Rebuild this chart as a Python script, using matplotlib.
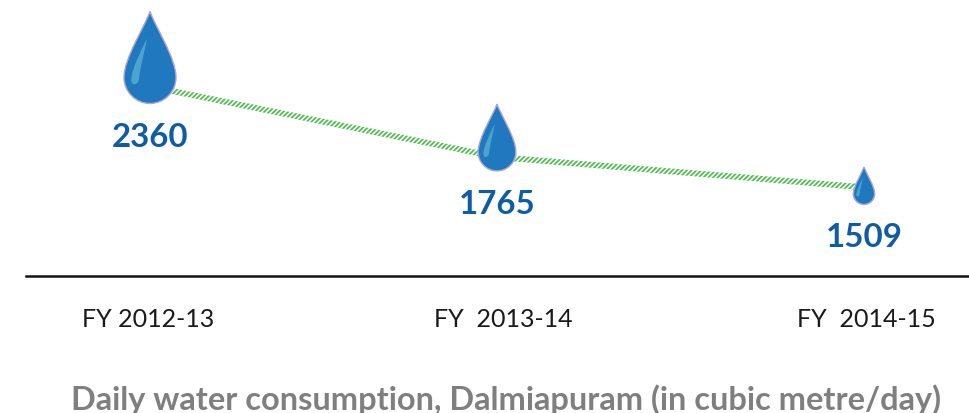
import matplotlib
matplotlib.use("Agg")
import matplotlib.pyplot as plt
from matplotlib.path import Path
from matplotlib.patches import PathPatch
from matplotlib.transforms import Affine2D

plt.rcParams['font.family'] = ['Lato', 'DejaVu Sans']
plt.rcParams['hatch.linewidth'] = 1.3

# data
categories = ["FY 2012-13", "FY  2013-14", "FY  2014-15"]
values = [2360, 1765, 1509]
title = "Daily water consumption, Dalmiapuram (in cubic metre/day)"

# layout
line_x = [150, 497, 864]
tick_x = [148, 503, 866]
drop_r = [26, 18.9, 10.6]
drop_dy = [9, 5, -6.5]
label_dy = [-50, -47, -49]

fig = plt.figure(figsize=(9.7, 4.14), dpi=100)
ax = fig.add_axes([26/970, 137/414, 944/970, 277/414])
ax.set_xlim(26, 970)
ax.set_ylim(761, 3098)
ax.patch.set_alpha(0)
for s in ("top", "left", "right"):
    ax.spines[s].set_visible(False)
ax.spines["bottom"].set_linewidth(1.8)
ax.spines["bottom"].set_color("#111111")
ax.set_yticks([])
ax.set_xticks(tick_x, categories)
ax.tick_params(axis="x", length=0, pad=22, labelsize=18, labelcolor="#1a1a1a")

# hatched band
half = 3.0 / 0.1185
ax.fill_between(line_x, [v - half for v in values], [v + half for v in values],
                facecolor="white", edgecolor="#55bb55", hatch="///////", linewidth=0, zorder=2)

# drops
verts = [(0, 2.54), (-0.2, 1.95), (-1.0, 0.75), (-1.0, 0.0),
         (-1.0, -0.55), (-0.55, -1.0), (0, -1.0),
         (0.55, -1.0), (1.0, -0.55), (1.0, 0.0),
         (1.0, 0.75), (0.2, 1.95), (0, 2.54)]
codes = [Path.MOVETO] + [Path.CURVE4]*12
drop = Path(verts, codes)

shine = Path([(-0.72, -0.1), (-0.7, 0.35), (-0.4, 0.9), (-0.12, 1.5),
              (-0.2, 1.0), (-0.38, 0.4), (-0.42, -0.05),
              (-0.45, -0.3), (-0.7, -0.35), (-0.72, -0.1)],
             [Path.MOVETO] + [Path.CURVE4]*9)

for x, v, r, dy, ldy in zip(line_x, values, drop_r, drop_dy, label_dy):
    px, py = ax.transData.transform((x, v))
    t = Affine2D().scale(r).translate(px, py + dy)
    ax.add_patch(PathPatch(drop, transform=t, facecolor="#2079bf", edgecolor="#aaa6d6",
                           linewidth=1.0, zorder=3, clip_on=False))
    ax.add_patch(PathPatch(shine, transform=t, facecolor="#6cc0d8", edgecolor="none",
                           alpha=0.6, zorder=4, clip_on=False))
    ax.annotate(str(v), (x, v), xytext=(0, ldy*0.72), textcoords="offset points",
                ha="center", va="center", fontsize=23.8, fontweight="bold",
                color="#0e5ca6", zorder=5)

fig.text(506/970, 1 - 400/414, title, ha="center", va="center",
         fontsize=23.4, fontweight="bold", color="#7f7f7f")
fig.savefig("out.png", dpi=100)
